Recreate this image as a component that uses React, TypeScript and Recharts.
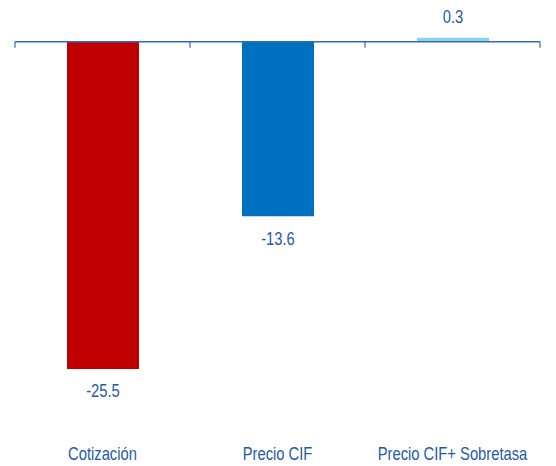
import { BarChart, Bar, XAxis, YAxis, Cell, LabelList, ReferenceLine } from "recharts";

const categories = ["Cotización", "Precio CIF", "Precio CIF+ Sobretasa"];
const values = [-25.5, -13.6, 0.3];
const colors = ["#C00000", "#0070C0", "#8DD1F2"];

const data = categories.map((name, i) => ({ name, value: values[i] }));

const FONT = '"Liberation Sans", Arial, sans-serif';
const TEXT = "#1F5AA8";
const AXIS = "#2E6DB4";
const SQUEEZE = 0.82; // fake an Arial Narrow look

const NarrowText = ({ x, y, children }: any) => (
  <g transform={`translate(${x},${y}) scale(${SQUEEZE},1)`}>
    <text x={0} y={0} textAnchor="middle" dominantBaseline="central" fill={TEXT} fontSize={18} fontFamily={FONT}>
      {children}
    </text>
  </g>
);

const ValueLabel = (props: any) => {
  const { x, y, width, height, value } = props;
  const top = Math.min(y, y + height);
  const bottom = Math.max(y, y + height);
  const cy = value < 0 ? bottom + 22 : top - 21;
  return <NarrowText x={x + width / 2} y={cy}>{value}</NarrowText>;
};

const CategoryTick = (props: any) => {
  const { x, y, payload } = props;
  return <NarrowText x={x} y={y + 10}>{payload.value}</NarrowText>;
};

// zero line with small ticks at category boundaries
const ZeroAxis = (props: any) => {
  const { x1, y1, x2 } = props;
  const step = (x2 - x1) / categories.length;
  return (
    <g>
      <line x1={x1} y1={y1} x2={x2} y2={y1} stroke={AXIS} strokeWidth={1.5} />
      {Array.from({ length: categories.length + 1 }, (_, i) => (
        <line key={i} x1={x1 + i * step} y1={y1} x2={x1 + i * step} y2={y1 + 6} stroke={AXIS} strokeWidth={1.2} />
      ))}
    </g>
  );
};

export default function App() {
  return (
    <div style={{ margin: "-8px 0 0 -8px", background: "#fff", width: 556, height: 466 }}>
      <BarChart width={556} height={466} data={data} margin={{ top: 16, right: 16, left: 15, bottom: 0 }}>
        <YAxis hide domain={[-28, 2]} />
        <XAxis
          dataKey="name"
          axisLine={false}
          tickLine={false}
          interval={0}
          height={65}
          tickMargin={36}
          tick={<CategoryTick />}
        />
        <Bar dataKey="value" barSize={72} isAnimationActive={false}>
          {data.map((d, i) => (
            <Cell key={d.name} fill={colors[i]} />
          ))}
          <LabelList dataKey="value" content={<ValueLabel />} />
        </Bar>
        <ReferenceLine y={0} shape={<ZeroAxis />} />
      </BarChart>
    </div>
  );
}
